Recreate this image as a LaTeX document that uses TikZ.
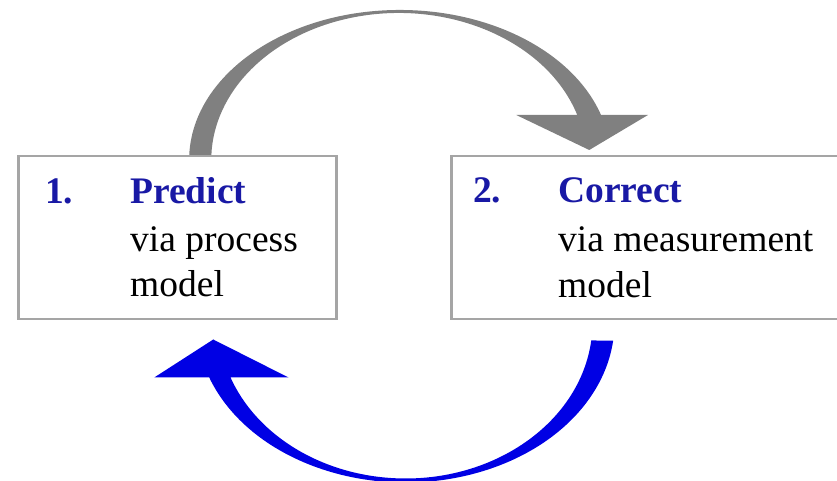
\documentclass[tikz,border=0pt]{standalone}
\usepackage{fontspec}
\setmainfont{Liberation Serif}
\usepackage{xcolor}
\usetikzlibrary{positioning}

\definecolor{stepblue}{RGB}{25,25,165}
\definecolor{loopblue}{RGB}{0,0,228}
\definecolor{loopgray}{RGB}{128,128,128}
\definecolor{boxgray}{RGB}{165,165,165}

\tikzset{
  stepbox/.style={draw=boxgray, line width=2.5pt, fill=white, minimum height=163pt, inner sep=0pt, anchor=north west},
  steptext/.style={anchor=base west, inner sep=0pt, font=\fontsize{37.5}{46}\selectfont},
  stephead/.style={steptext, text=stepblue, font=\fontsize{37.5}{46}\selectfont\bfseries}
}

\begin{document}
\begin{tikzpicture}[x=1pt,y=1pt]
  \useasboundingbox (0,0) rectangle (837,481);

  % the two steps
  \node[stepbox, minimum width=318pt] (predict) at (17,326) {};
  \node[stepbox, minimum width=400pt] (correct) at (450,326) {};

  \node[stephead] (predictnum) at ([xshift=28pt,yshift=-49pt]predict.north west) {1.};
  \node[stephead] (predicttitle) at ([xshift=113pt,yshift=-49pt]predict.north west) {Predict};
  \node[steptext] (predictvia) at ([xshift=113pt,yshift=-97pt]predict.north west) {via process};
  \node[steptext] (predictmodel) at ([xshift=113pt,yshift=-142pt]predict.north west) {model};

  \node[stephead] (correctnum) at ([xshift=23pt,yshift=-48pt]correct.north west) {2.};
  \node[stephead] (correcttitle) at ([xshift=108pt,yshift=-48pt]correct.north west) {Correct};
  \node[steptext] (correctvia) at ([xshift=108pt,yshift=-97pt]correct.north west) {via measurement};
  \node[steptext] (correctmodel) at ([xshift=108pt,yshift=-143pt]correct.north west) {model};

  % predict -> correct: grey arc over the top
  \coordinate (graystart) at ([xshift=12pt]predict.north);
  \coordinate (graytip) at ([xshift=-62pt,yshift=5pt]correct.north);
  \fill[loopgray] (graystart)
    arc[start angle=178.1, end angle=17.46, x radius=210.8pt, y radius=150pt]
    -- ++(47pt,0) -- (graytip) -- ++(-73pt,35pt) -- ++(61pt,0)
    arc[start angle=17.82, end angle=178.05, x radius=187.5pt, y radius=147pt]
    -- cycle;

  % correct -> predict: blue arc underneath
  \coordinate (bluestart) at ([xshift=-60pt,yshift=-20pt]correct.south);
  \coordinate (bluetip) at ([xshift=36pt,yshift=-19pt]predict.south);
  \fill[loopblue] (bluestart)
    arc[start angle=-6.63, end angle=-159.35, x radius=187pt, y radius=156pt]
    -- ++(58pt,0) -- (bluetip) -- ++(-59pt,-38pt) -- ++(55pt,0)
    arc[start angle=-159.9, end angle=-6.46, x radius=209pt, y radius=160pt]
    -- cycle;
\end{tikzpicture}
\end{document}
